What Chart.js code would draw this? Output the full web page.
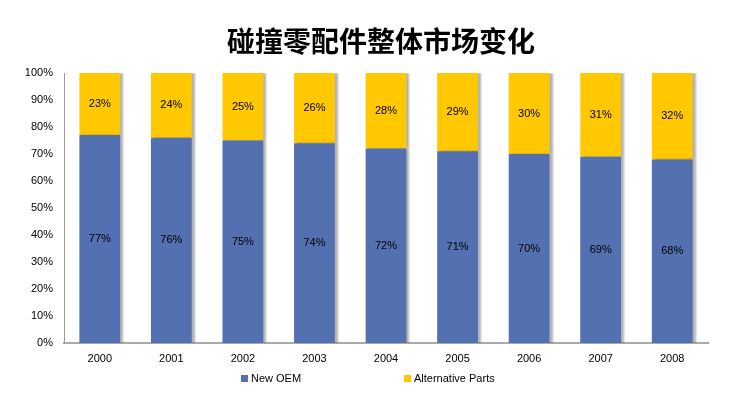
<!DOCTYPE html>
<html>
<head>
<meta charset="utf-8">
<script src="https://cdn.jsdelivr.net/npm/chart.js@4"></script>
<style>
    body { margin: 0; background: #fff; }
    #wrap { position: relative; width: 739px; height: 398px; }
    #title {
        position: absolute; left: 0; width: 762px; top: 20px;
        text-align: center; font: bold 28px "Noto Sans CJK SC", sans-serif; color: #000;
    }
    .legend {
        position: absolute; top: 372px; font: 11px "Liberation Sans", Arial, sans-serif; color: #000;
    }
    .legend span {
        display: inline-block; width: 7px; height: 7px; margin-right: 3px; vertical-align: 0px;
    }
</style>
</head>
<body>
<div id="wrap">
    <div id="title">碰撞零配件整体市场变化</div>
    <canvas id="chart" width="739" height="398"></canvas>
    <div class="legend" style="left:241px"><span style="background:#5370B0"></span>New OEM</div>
    <div class="legend" style="left:404px"><span style="background:#FFC800"></span>Alternative Parts</div>
</div>
<script>
// Chart data
const years = ['2000', '2001', '2002', '2003', '2004', '2005', '2006', '2007', '2008'];
const newOem = [77, 76, 75, 74, 72, 71, 70, 69, 68];
const altParts = [23, 24, 25, 26, 28, 29, 30, 31, 32];

// Bar shadow + value labels
const barExtras = {
    id: 'barExtras',
    beforeDatasetsDraw(chart) {
        const ctx = chart.ctx;
        ctx.save();
        ctx.shadowColor = 'rgba(0,0,0,0.3)';
        ctx.shadowOffsetX = 3;
        ctx.shadowBlur = 2;
    },
    afterDatasetsDraw(chart) {
        const ctx = chart.ctx;
        ctx.restore();
        ctx.save();
        ctx.font = '11px "Liberation Sans", Arial, sans-serif';
        ctx.fillStyle = '#000';
        ctx.textAlign = 'center';
        ctx.textBaseline = 'middle';
        chart.data.datasets.forEach((ds, i) => {
            chart.getDatasetMeta(i).data.forEach((bar, j) => {
                ctx.fillText(ds.data[j] + '%', bar.x, (bar.y + bar.base) / 2);
            });
        });
        ctx.restore();
    }
};

new Chart(document.getElementById('chart'), {
    type: 'bar',
    data: {
        labels: years,
        datasets: [
            { label: 'New OEM', data: newOem, backgroundColor: '#5370B0' },
            { label: 'Alternative Parts', data: altParts, backgroundColor: '#FFC800' }
        ]
    },
    options: {
        responsive: false,
        animation: false,
        layout: { padding: { left: 0, right: 31, top: 73, bottom: 30 } },
        datasets: { bar: { barPercentage: 0.57, categoryPercentage: 1 } },
        plugins: {
            legend: { display: false },
            tooltip: { enabled: false }
        },
        scales: {
            x: {
                stacked: true,
                grid: { display: false, drawTicks: false },
                border: { color: '#aaa', width: 2 },
                ticks: { color: '#000', padding: 9, font: { size: 11, family: '"Liberation Sans", Arial, sans-serif' } },
                afterFit(scale) { scale.height = 25; }
            },
            y: {
                stacked: true,
                min: 0,
                max: 100,
                grid: { display: false, drawTicks: false },
                border: { color: '#999', width: 1 },
                ticks: {
                    stepSize: 10,
                    color: '#000',
                    padding: 11,
                    font: { size: 11, family: '"Liberation Sans", Arial, sans-serif' },
                    callback: v => v + '%'
                },
                afterFit(scale) { scale.width = 64; }
            }
        }
    },
    plugins: [barExtras]
});
</script>
</body>
</html>
